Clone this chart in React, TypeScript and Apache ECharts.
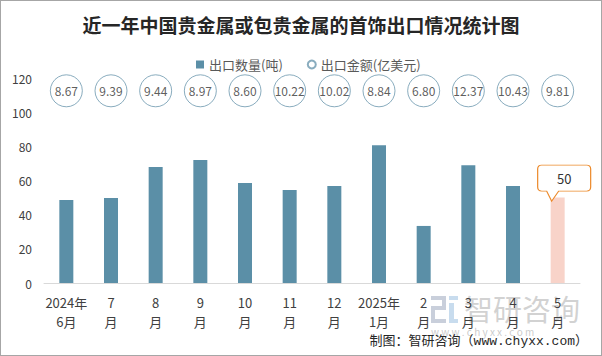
import React, { useEffect, useRef } from "react";
import * as echarts from "echarts";

const categories = ["2024年\n6月", "7\n月", "8\n月", "9\n月", "10\n月", "11\n月", "12\n月", "2025年\n1月", "2\n月", "3\n月", "4\n月", "5\n月"];
const quantity = [48.6, 49.7, 67.9, 72.0, 58.5, 54.4, 56.8, 80.7, 33.4, 69.0, 56.8, 50];
const amount = [8.67, 9.39, 9.44, 8.97, 8.6, 10.22, 10.02, 8.84, 6.8, 12.37, 10.43, 9.81];
const yTicks = [0, 20, 40, 60, 80, 100, 120];
const circleRow = 112.5;
const highlightIndex = 11;

const FONT = "'Noto Sans CJK SC', 'Noto Sans', sans-serif";
const BAR = "#5B8FA7";
const PINK = "#F8D3C9";
const ORANGE = "#EC8A2B";

const calloutPath =
  "path://M4,0 H49 Q53,0 53,4 V22 Q53,26 49,26 H21 L14,36 L9,26 H4 Q0,26 0,22 V4 Q0,0 4,0 Z";

export default function App() {
  const ref = useRef<HTMLDivElement>(null);
  useEffect(() => {
    if (!ref.current) return;
    const chart = echarts.init(ref.current, undefined, { renderer: "svg" });
    chart.setOption({
      animation: false,
      backgroundColor: "#fff",
      textStyle: { fontFamily: FONT },
      title: {
        text: "近一年中国贵金属或包贵金属的首饰出口情况统计图",
        left: "center",
        top: 9,
        textStyle: { fontSize: 19, fontWeight: "bold", color: "#262626", fontFamily: FONT },
      },
      legend: {
        top: 52,
        left: 190,
        itemWidth: 8,
        itemHeight: 8,
        itemGap: 24,
        textStyle: { fontSize: 13, color: "#595959", fontFamily: FONT },
        data: [
          { name: "出口数量(吨)", icon: "rect" },
          { name: "出口金额(亿美元)", icon: "circle" },
        ],
      },
      grid: { left: 43, right: 21, top: 77, bottom: 72 },
      xAxis: {
        type: "category",
        data: categories,
        axisLine: { lineStyle: { color: "#D9D9D9", width: 1 } },
        axisTick: { show: false },
        axisLabel: { fontSize: 13, color: "#404040", lineHeight: 19, margin: 10, interval: 0, fontFamily: FONT },
      },
      yAxis: {
        type: "value",
        min: yTicks[0],
        max: yTicks[yTicks.length - 1],
        interval: 20,
        splitLine: { show: false },
        axisLine: { show: false },
        axisTick: { show: false },
        axisLabel: { fontSize: 12, color: "#404040", margin: 12, fontFamily: FONT },
      },
      series: [
        {
          name: "出口数量(吨)",
          type: "bar",
          barWidth: 14,
          itemStyle: { color: BAR },
          data: quantity.map((v, i) =>
            i === highlightIndex ? { value: v, itemStyle: { color: PINK } } : v
          ),
          markPoint: {
            symbol: calloutPath,
            symbolSize: [53, 36],
            symbolOffset: [6.5, -14.5],
            symbolKeepAspect: false,
            itemStyle: { color: "#fff", borderColor: ORANGE, borderWidth: 1 },
            label: {
              show: true,
              formatter: "{c}",
              position: "inside",
              offset: [0, -5],
              color: "#333",
              fontSize: 13,
              fontFamily: FONT,
            },
            data: [{ coord: [highlightIndex, quantity[highlightIndex]], value: quantity[highlightIndex] }],
          },
        },
        {
          name: "出口金额(亿美元)",
          type: "scatter",
          symbol: "circle",
          symbolSize: 32,
          itemStyle: { color: "#fff", borderColor: "#6B97AE", borderWidth: 1 },
          label: {
            show: true,
            position: "inside",
            color: "#333",
            fontSize: 12,
            fontFamily: FONT,
            formatter: (p: any) => amount[p.dataIndex].toFixed(2),
          },
          data: amount.map((_, i) => [i, circleRow]),
        },
      ],
      graphic: [
        {
          type: "group",
          left: 430,
          top: 295,
          z: -10,
          silent: true,
          children: [
            { type: "rect", shape: { x: 0, y: 0, width: 15, height: 4 }, style: { fill: "#C9CFDB" } },
            { type: "rect", shape: { x: 11, y: 0, width: 4, height: 13 }, style: { fill: "#C9CFDB" } },
            { type: "rect", shape: { x: 0, y: 10, width: 15, height: 4 }, style: { fill: "#C9CFDB" } },
            { type: "rect", shape: { x: 0, y: 10, width: 4, height: 17 }, style: { fill: "#C9CFDB" } },
            { type: "rect", shape: { x: 0, y: 23, width: 15, height: 4 }, style: { fill: "#C9CFDB" } },
            { type: "rect", shape: { x: 18, y: 0, width: 9, height: 4 }, style: { fill: "#C8DCEE" } },
            { type: "rect", shape: { x: 18, y: 7, width: 5, height: 20 }, style: { fill: "#C8DCEE" } },
            { type: "rect", shape: { x: 18, y: 23, width: 9, height: 4 }, style: { fill: "#C8DCEE" } },
          ],
        },
        {
          type: "text",
          left: 463,
          top: 292,
          z: -10,
          silent: true,
          style: { text: "智研咨询", fontSize: 29, fill: "rgba(180,180,180,0.6)", fontFamily: FONT },
        },
        {
          type: "text",
          left: 430,
          top: 325,
          z: -10,
          silent: true,
          style: { text: "w w w . c h y x x . c o m", fontSize: 10, fill: "rgba(180,180,180,0.7)", fontFamily: FONT },
        },
        {
          type: "text",
          right: 13,
          top: 334,
          style: {
            text: "制图：智研咨询（www.chyxx.com）",
            fontSize: 13,
            fill: "#262626",
            fontFamily: "'Liberation Mono', 'Noto Sans CJK SC', monospace",
          },
        },
      ],
    });
    return () => chart.dispose();
  }, []);
  return (
    <div
      style={{
        position: "fixed",
        left: 0,
        top: 0,
        width: 602,
        height: 356,
        boxSizing: "border-box",
        border: "1px solid #A6A6A6",
        background: "#fff",
      }}
    >
      <div ref={ref} style={{ width: 600, height: 354 }} />
    </div>
  );
}
